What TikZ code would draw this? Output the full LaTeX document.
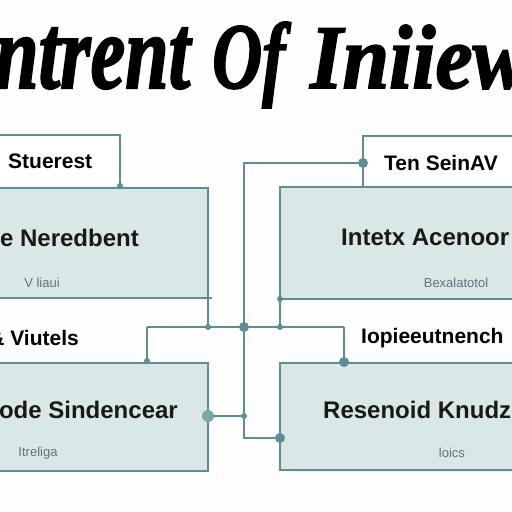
\documentclass[tikz,border=0pt]{standalone}
\usepackage{fontspec}
\setmainfont{Liberation Sans}
\newfontfamily\titlefont[BoldItalicFeatures={FakeBold=2}]{Liberation Serif}
\usepackage{graphicx}
\definecolor{teal1}{HTML}{5E8E92}
\definecolor{fillc}{HTML}{D9E7E6}
\definecolor{subc}{HTML}{5A7678}
\definecolor{dotl}{HTML}{7FA4A6}
\tikzset{
  box/.style={draw=teal1, line width=2.2pt, fill=fillc, inner sep=0pt, outer sep=0pt, anchor=north west},
  lbox/.style={draw=teal1, line width=2.2pt, fill=white, inner sep=0pt, outer sep=0pt, anchor=north west},
  wire/.style={draw=teal1, line width=2.2pt},
  bigtxt/.style={font=\fontsize{24}{28}\selectfont\bfseries, text=black!90, inner sep=0pt},
  labtxt/.style={font=\fontsize{21}{25}\selectfont\bfseries, text=black, inner sep=0pt},
  subtxt/.style={font=\fontsize{13}{15}\selectfont, text=subc, inner sep=0pt},
  ttl/.style={font=\titlefont\bfseries\itshape, inner sep=0pt, anchor=base west},
  bigdot/.style={circle, fill=teal1, inner sep=0pt, minimum size=10pt},
  smalldot/.style={circle, fill=teal1, inner sep=0pt, minimum size=6pt},
  ldot/.style={circle, fill=dotl, inner sep=0pt, minimum size=12pt}
}
\begin{document}
\begin{tikzpicture}[x=1pt,y=-1pt]
\useasboundingbox (0,0) rectangle (512,512);
\fill[white!99!gray] (0,0) rectangle (512,512);
\clip (0,0) rectangle (512,512);
% title
\node[ttl] (t1) at (-5,88) {\resizebox{195pt}{60pt}{ntrent}};
\node[ttl] (t2) at (212,88) {\resizebox{73pt}{66pt}{Of}};
\node[ttl] (t3) at (310,88) {\resizebox{218pt}{63pt}{Iniiew}};
% junction coordinates
\coordinate (j1) at (244,163);
\coordinate (j2) at (244,327);
\coordinate (j3) at (147,327);
\coordinate (j4) at (344,327);
\coordinate (j5) at (208,327);
\coordinate (j6) at (280,327);
\coordinate (j7) at (244,416);
\coordinate (j8) at (244,438);
% wires behind boxes
\draw[wire] (363,163) -- (j1) -- (j8) -- (280,438);
\draw[wire] (j3) -- (j4);
\draw[wire] (147,363) -- (j3);
\draw[wire] (344,363) -- (j4);
\draw[wire] (208,298) -- (j5);
\draw[wire] (280,299) -- (j6);
\draw[wire] (208,416) -- (j7);
% boxes
\node[lbox, minimum width=140pt, minimum height=53pt] (tll) at (-20,135) {};
\node[box, minimum width=228pt, minimum height=110pt] (tlb) at (-20,188) {};
\node[lbox, minimum width=170pt, minimum height=51pt] (trl) at (363,136) {};
\node[box, minimum width=250pt, minimum height=112pt] (trb) at (280,187) {};
\node[box, minimum width=228pt, minimum height=108pt] (blb) at (-20,363) {};
\node[box, minimum width=250pt, minimum height=107pt] (brb) at (280,363) {};
\draw[wire] (tlb.south east) -- ++(4,0);
% texts
\node[labtxt, anchor=west] (s1) at (8,161) {Stuerest};
\node[bigtxt, anchor=east] (s2) at (139,238) {e Neredbent};
\node[subtxt] (s3) at (42,283) {V liaui};
\node[labtxt, anchor=west] (s4) at (384,163) {Ten SeinAV};
\node[bigtxt, anchor=west] (s5) at (341,237) {Intetx Acenoor};
\node[subtxt] (s6) at (456,283) {Bexalatotol};
\node[labtxt, anchor=east] (s7) at (79,338) {\& Viutels};
\node[bigtxt, anchor=east] (s8) at (178,410) {ode Sindencear};
\node[subtxt] (s9) at (38,453) {Itreliga};
\node[labtxt, anchor=west] (s10) at (361,338) {Iopieeutnench};
\node[bigtxt, anchor=west] (s11) at (323,410) {Resenoid Knudzec};
\node[subtxt] (s12) at (452,453) {loics};
% dots
\node[smalldot] (d1) at (120,186) {};
\node[bigdot] (d2) at (363,163) {};
\node[bigdot] (d3) at (j2) {};
\node[smalldot] (d4) at (j5) {};
\node[smalldot] (d5) at (j6) {};
\node[smalldot] (d6) at (147,361) {};
\node[bigdot] (d7) at (344,362) {};
\node[ldot] (d8) at (208,416) {};
\node[smalldot] (d9) at (j7) {};
\node[bigdot] (d10) at (280,438) {};
\node[smalldot] (d11) at (280,299) {};
\end{tikzpicture}
\end{document}
